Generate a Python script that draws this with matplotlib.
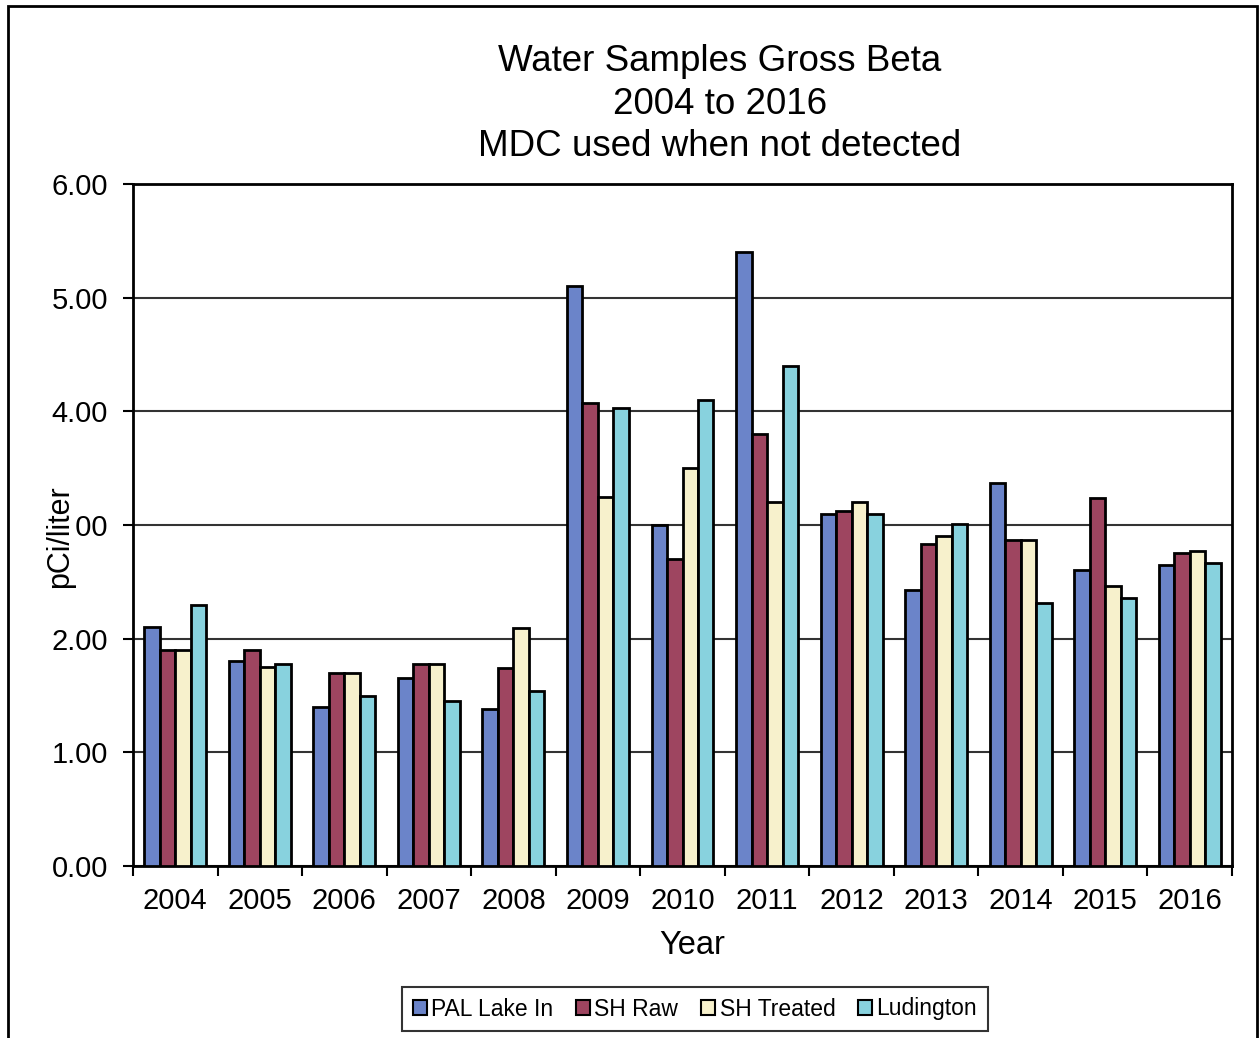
import matplotlib
matplotlib.use("Agg")
import matplotlib.pyplot as plt
import numpy as np
from matplotlib.patches import Rectangle

plt.rcParams['font.family'] = ['Liberation Sans', 'DejaVu Sans']

years = ['2004', '2005', '2006', '2007', '2008', '2009', '2010',
         '2011', '2012', '2013', '2014', '2015', '2016']
pal_lake_in = [2.10, 1.80, 1.40, 1.65, 1.38, 5.10, 3.00, 5.40, 3.10, 2.43, 3.37, 2.60, 2.65]
sh_raw      = [1.90, 1.90, 1.70, 1.78, 1.74, 4.07, 2.70, 3.80, 3.12, 2.83, 2.87, 3.24, 2.75]
sh_treated  = [1.90, 1.75, 1.70, 1.78, 2.09, 3.25, 3.50, 3.20, 3.20, 2.90, 2.87, 2.46, 2.77]
ludington   = [2.30, 1.78, 1.50, 1.45, 1.54, 4.03, 4.10, 4.40, 3.10, 3.01, 2.31, 2.36, 2.67]

series_names = ['PAL Lake In', 'SH Raw', 'SH Treated', 'Ludington']
series_colors = ['#6B84C9', '#9E4560', '#F7F1CC', '#88D2DE']
y_ticks = [0, 1, 2, 3, 4, 5, 6]

W, H = 1259, 1038
fig = plt.figure(figsize=(W / 100, H / 100), dpi=100)
ax = fig.add_axes([133 / W, 1 - 866 / H, (1232 - 133) / W, (866 - 184) / H])

x = np.arange(len(years))
bw = 0.183
for i, (vals, col, name) in enumerate(zip([pal_lake_in, sh_raw, sh_treated, ludington],
                                          series_colors, series_names)):
    ax.bar(x + (i - 1.5) * bw, vals, width=bw, color=col, edgecolor='black',
           linewidth=2, label=name, zorder=3)

ax.set_xlim(-0.5, len(years) - 0.5)
ax.set_ylim(0, 6)
ax.set_yticks(y_ticks)
ax.set_yticklabels([f"{v:.2f}" for v in y_ticks], fontsize=21)
ax.set_xticks(x)
ax.set_xticklabels(years, fontsize=21)
ax.set_xticks(np.arange(-0.5, len(years), 1), minor=True)
ax.tick_params(axis='x', which='major', length=0, pad=15)
ax.tick_params(axis='x', which='minor', length=7, width=1.5, direction='out')
ax.tick_params(axis='y', length=7, width=1.5, direction='out', pad=11)

ax.yaxis.grid(True, color='#333333', linewidth=1.5, zorder=0)
ax.set_axisbelow(True)
for s in ax.spines.values():
    s.set_linewidth(2)
    s.set_color('black')

fig.text(692 / W, 1 - 945 / H, 'Year', fontsize=23.5, ha='center', va='center')
fig.text(60 / W, 1 - 537 / H, 'pCi/liter', rotation=90, fontsize=22,
         ha='center', va='center',
         bbox=dict(facecolor='white', edgecolor='none', pad=0))

fig.text(720 / W, 1 - 104 / H,
         'Water Samples Gross Beta\n2004 to 2016\nMDC used when not detected',
         ha='center', va='center', fontsize=26.5, linespacing=1.28)

leg = fig.legend(loc='center', bbox_to_anchor=(695 / W, 1 - 1009 / H), ncol=4,
                 fontsize=16.5, frameon=True, fancybox=False, edgecolor='black',
                 handlelength=0.6, handleheight=0.6, handletextpad=0.2,
                 columnspacing=1.0, borderpad=0.45)
leg.get_frame().set_linewidth(1.5)
for h in leg.legend_handles:
    h.set_linewidth(1.5)

# outer chart border
fig.patches.append(Rectangle((8 / W, -0.05), (1257 - 8) / W, 1.05 - 6 / H,
                             transform=fig.transFigure, fill=False,
                             edgecolor='black', linewidth=2))

fig.savefig('out.png', dpi=100, facecolor='white')
